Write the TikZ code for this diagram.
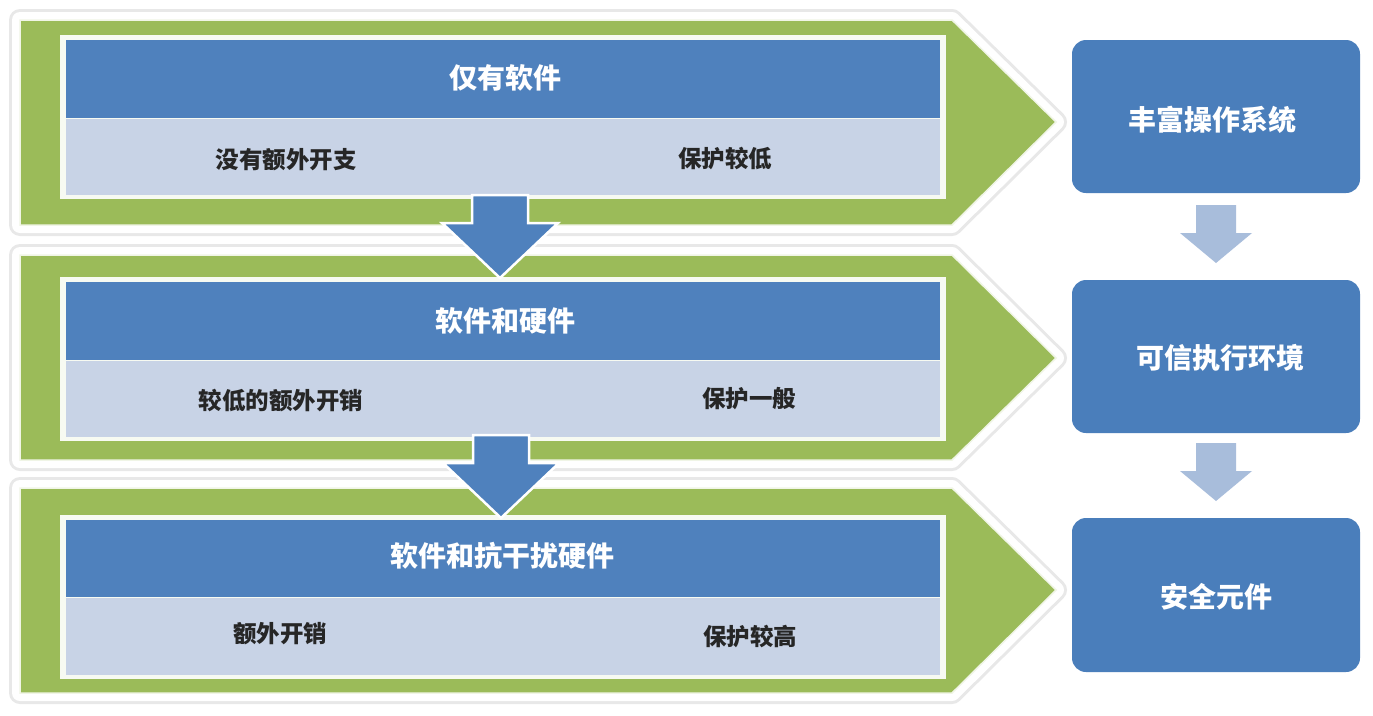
\documentclass[tikz,border=0pt]{standalone}
\usepackage{fontspec}
\newfontfamily\cjk{Noto Sans CJK SC}
\definecolor{bandgreen}{HTML}{9BBB59}
\definecolor{hdrblue}{HTML}{4F81BD}
\definecolor{boxblue}{HTML}{4A7EBB}
\definecolor{cellgray}{HTML}{C8D3E6}
\definecolor{paleblue}{HTML}{A8BDDB}
\definecolor{txt}{HTML}{262626}
\begin{document}
\begin{tikzpicture}[x=1pt,y=-1pt,
  bandshadow/.style={draw=black!9,line width=22pt,line join=round},
  bandhalo/.style={draw=white,line width=16pt,line join=round},
  bandfill/.style={fill=bandgreen,draw=white!85!bandgreen,line width=1.5pt},
  frame/.style={fill=white!92!bandgreen},
  hdr/.style={fill=hdrblue},
  cell/.style={fill=cellgray},
  titletxt/.style={text=white,font=\cjk\bfseries\fontsize{28}{32}\selectfont,inner sep=0pt},
  celltxt/.style={text=txt,font=\cjk\bfseries\fontsize{23.5}{28}\selectfont,inner sep=0pt},
  rbox/.style={fill=boxblue,rounded corners=14pt},
  rtxt/.style={text=white,font=\cjk\bfseries\fontsize{28}{32}\selectfont,inner sep=0pt},
  bigarrow/.style={fill=hdrblue,draw=white,line width=2.5pt,line join=miter},
  smallarrow/.style={fill=paleblue}
]
\useasboundingbox (0,0) rectangle (1373,715);
\fill[white] (0,0) rectangle (1373,715);

% ---------- green chevron bands ----------
\foreach \T/\B/\M in {20/225/122, 255/460/358, 488/693/590}{
  \draw[bandshadow] (20,\T) -- (952,\T) -- (1056,\M) -- (952,\B) -- (20,\B) -- cycle;
  \draw[bandhalo]   (20,\T) -- (952,\T) -- (1056,\M) -- (952,\B) -- (20,\B) -- cycle;
  \draw[bandfill]   (20,\T) -- (952,\T) -- (1056,\M) -- (952,\B) -- (20,\B) -- cycle;
}

% ---------- inner tables ----------
\foreach \a/\b/\c in {40/118/195, 282/360/437, 520/597/675}{
  \fill[frame] (60,\a-5) rectangle (946,\c+4);
  \fill[hdr] (66,\a) rectangle (940,\b);
  \fill[cell] (66,\b+1) rectangle (940,\c);
}

% ---------- blue down arrows between bands ----------
\coordinate (a1) at (500,195);
\coordinate (a2) at (501,435);
\foreach \p in {a1,a2}{
  \draw[bigarrow] ([xshift=-28pt]\p) -- ([xshift=28pt]\p) -- ([xshift=28pt,yshift=-28pt]\p)
     -- ([xshift=58pt,yshift=-28pt]\p) -- ([yshift=-83pt]\p) -- ([xshift=-58pt,yshift=-28pt]\p)
     -- ([xshift=-28pt,yshift=-28pt]\p) -- cycle;
}

% ---------- texts in bands ----------
\node[titletxt] (t1) at (505,78) {仅有软件};
\node[celltxt] (l1) at (286,160) {没有额外开支};
\node[celltxt] (r1) at (725,159) {保护较低};

\node[titletxt] (t2) at (505,321) {软件和硬件};
\node[celltxt] (l2) at (281,401) {较低的额外开销};
\node[celltxt] (r2) at (749,399) {保护一般};

\node[titletxt] (t3) at (502,556) {软件和抗干扰硬件};
\node[celltxt] (l3) at (280,634) {额外开销};
\node[celltxt] (r3) at (750,636) {保护较高};

% ---------- right boxes ----------
\fill[rbox] (1072,40) rectangle (1360,193);
\fill[rbox] (1072,280) rectangle (1360,433);
\fill[rbox] (1072,518) rectangle (1360,672);
\node[rtxt] (b1) at (1212,120) {丰富操作系统};
\node[rtxt] (b2) at (1220,358) {可信执行环境};
\node[rtxt] (b3) at (1216,597) {安全元件};

% ---------- pale arrows between right boxes ----------
\coordinate (s1) at (1216,205);
\coordinate (s2) at (1216,443);
\foreach \p in {s1,s2}{
  \fill[smallarrow] ([xshift=-20pt]\p) -- ([xshift=20pt]\p) -- ([xshift=20pt,yshift=-28pt]\p)
     -- ([xshift=36pt,yshift=-28pt]\p) -- ([yshift=-58pt]\p) -- ([xshift=-36pt,yshift=-28pt]\p)
     -- ([xshift=-20pt,yshift=-28pt]\p) -- cycle;
}
\end{tikzpicture}
\end{document}
